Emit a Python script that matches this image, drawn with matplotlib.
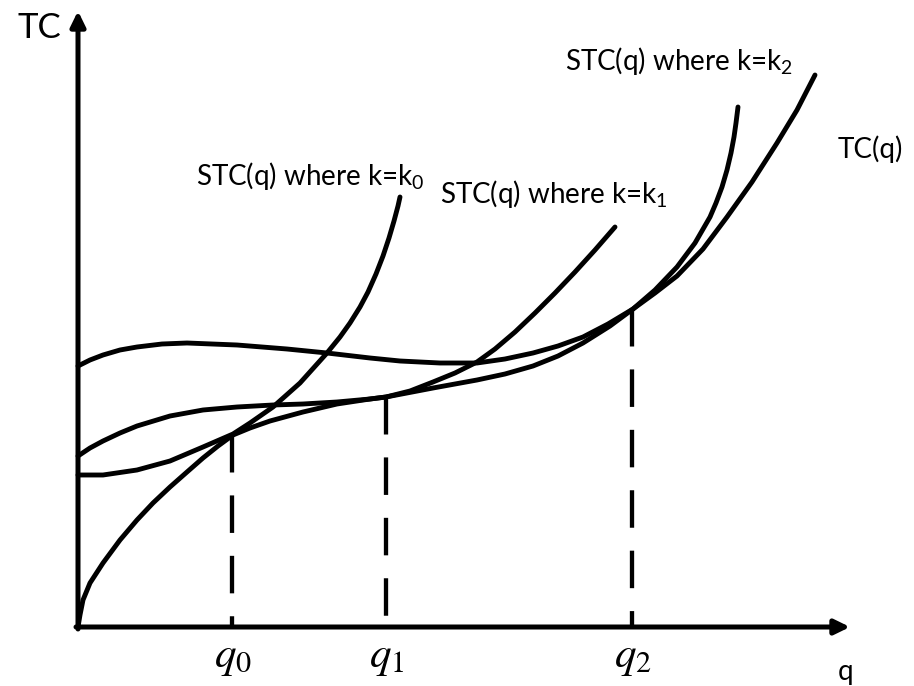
import matplotlib
matplotlib.use("Agg")
import matplotlib.pyplot as plt

plt.rcParams['font.family'] = ['Lato', 'DejaVu Sans']
plt.rcParams['mathtext.fontset'] = 'custom'
plt.rcParams['mathtext.rm'] = 'Lato'
plt.rcParams['mathtext.it'] = 'Lato:italic'
plt.rcParams['lines.scale_dashes'] = False

# ---- data (q on x, cost on y; arbitrary units) ----
tc_q = [0, 0.2, 0.5, 1.2, 2.5, 4.2, 5.9, 7.5, 9.2, 10.9, 12.5, 14.0, 15.5, 17.2, 19.2,
        22.5, 25.9, 29.2, 30.8, 35.5, 39.9, 42.7, 45.5, 48.0, 50.5, 53.2, 55.5, 57.7, 59.9,
        62.5, 64.9, 67.4, 69.9, 71.9, 73.7]
tc_c = [0, 1.2, 2.7, 4.4, 6.4, 8.7, 10.7, 12.4, 14.0, 15.5, 16.9, 18.1, 19.2, 19.9, 20.6,
        21.5, 22.3, 22.8, 23.0, 23.9, 24.7, 25.3, 26.1, 27.1, 28.4, 30.1, 31.8, 33.4, 35.1,
        37.8, 41.0, 44.5, 48.4, 51.7, 55.2]

stc0_q = [0, 2.5, 5.9, 9.2, 12.5, 15.5, 17.2, 19.5, 22.2, 24.9, 26.2, 27.2, 28.2, 29.0,
          29.8, 30.5, 31.1, 31.6, 32.0, 32.2]
stc0_c = [15.2, 15.2, 15.7, 16.6, 18.0, 19.3, 20.4, 22.0, 24.4, 27.4, 29.0, 30.4, 32.0, 33.5,
          35.3, 37.1, 38.9, 40.6, 42.1, 43.0]

stc1_q = [0, 1.2, 2.5, 4.2, 5.9, 9.2, 12.5, 15.9, 19.5, 22.5, 25.9, 29.2, 30.8, 33.2, 35.5,
          37.7, 39.9, 41.7, 43.7, 45.7, 47.7, 49.7, 51.7, 53.7]
stc1_c = [17.1, 17.9, 18.6, 19.4, 20.1, 21.1, 21.7, 22.0, 22.2, 22.3, 22.5, 22.8, 23.0, 23.6, 24.5,
          25.4, 26.5, 27.8, 29.5, 31.4, 33.4, 35.5, 37.7, 40.0]

stc2_q = [0, 1.2, 2.5, 4.2, 5.9, 8.4, 10.9, 13.4, 15.9, 18.4, 20.9, 24.9, 29.2, 32.2, 36.2,
          39.9, 42.7, 45.5, 48.0, 50.5, 53.0, 55.5, 57.7, 59.9, 61.7, 63.2, 63.8, 64.4, 64.9,
          65.3, 65.6, 65.8, 66.0]
stc2_c = [26.1, 26.7, 27.2, 27.7, 28.0, 28.3, 28.4, 28.3, 28.2, 28.0, 27.8, 27.4, 26.9, 26.6, 26.4,
          26.4, 26.8, 27.4, 28.1, 29.0, 30.3, 31.8, 33.7, 36.0, 38.4, 41.0, 42.4, 44.0, 45.7,
          47.4, 49.0, 50.4, 52.0]

q_marks = [15.4, 30.8, 55.4]          # q0, q1, q2
q_mark_tops = [19.2, 23.0, 31.8]      # tangency heights on TC
q_mark_labels = [r'$q_0$', r'$q_1$', r'$q_2$']

x_axis_end = 77.2
y_axis_end = 61.6

curve_labels = [
    ('STC(q) where k=k$_0$', 11.8, 44.2),
    ('STC(q) where k=k$_1$', 36.2, 42.4),
    ('STC(q) where k=k$_2$', 48.7, 55.7),
    ('TC(q)', 76.0, 46.9),
]

# ---- figure ----
fig = plt.figure(figsize=(9.14, 6.86), dpi=100)
ax = fig.add_axes([0, 0, 1, 1])
ax.set_xlim(-7.8, 83.6)
ax.set_ylim(-5.9, 62.7)
ax.axis('off')

lw = 3.5
for qs, cs in [(tc_q, tc_c), (stc0_q, stc0_c), (stc1_q, stc1_c), (stc2_q, stc2_c)]:
    ax.plot(qs, cs, color='black', lw=lw, solid_capstyle='round', solid_joinstyle='round')

# dashed guides (drawn from top down so dashes start at the curve)
for qm, top in zip(q_marks, q_mark_tops):
    ax.plot([qm, qm], [top, 0], color='black', lw=3.1, linestyle=(0, (27, 16.5)),
            dash_capstyle='butt')

# axes with arrows
arrow_kw = dict(arrowstyle='-|>,head_length=0.45,head_width=0.22', lw=3.6, color='black',
                mutation_scale=20, shrinkA=0, shrinkB=0)
ax.annotate('', xy=(x_axis_end, 0), xytext=(-0.2, 0), arrowprops=arrow_kw)
ax.annotate('', xy=(0, y_axis_end), xytext=(0, -0.2), arrowprops=arrow_kw)

# labels
ax.text(-6.0, 58.9, 'TC', fontsize=25, ha='left', va='baseline')
ax.text(76.0, -5.3, 'q', fontsize=20, ha='left', va='baseline')
for txt, x, y in curve_labels:
    ax.text(x, y, txt, fontsize=20, ha='left', va='baseline')
for qm, lab in zip(q_marks, q_mark_labels):
    ax.text(qm + 0.1, -4.0, lab, fontsize=31, ha='center', va='baseline', math_fontfamily='stix')

fig.savefig('out.png', dpi=100)
